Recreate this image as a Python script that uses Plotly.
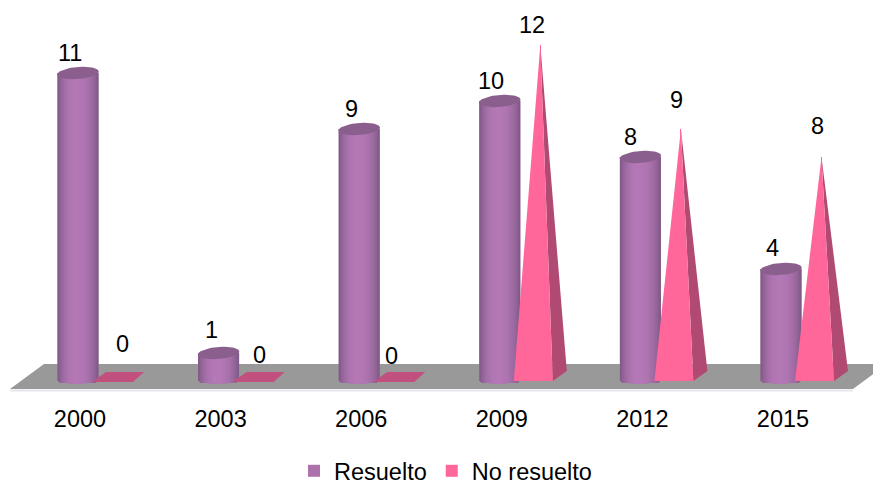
import numpy as np
import plotly.graph_objects as go

years = ["2000", "2003", "2006", "2009", "2012", "2015"]
resuelto = [11, 1, 9, 10, 8, 4]
no_resuelto = [0, 0, 0, 12, 9, 8]

# label offsets from the mark's reference point, in pixels
res_label_dx = [-8, -7, -8, -9, -10, -9]
res_label_dy = [20, 23, 20, 20, 20, 21]
nores_label_dx = [44, 41, 32, 32, 36, 36]
nores_label_dy = [37, 26, 25, 20, 29, 31]

W, H = 873, 485
X0, DX = 78.0, 140.6     # pixel position of first category, pixels per category
Y0, DY = 381.0, 28.0     # pixel position of zero, pixels per unit
PLOT_BOTTOM = 395
FONT = "Liberation Sans, Arial, sans-serif"
FS = 23.5

px = lambda p: p / DX    # horizontal pixels to data units
py = lambda p: p / DY    # vertical pixels to data units

xs = list(range(len(years)))
fig = go.Figure()

# first layer carries the true values and the legend colour
fig.add_trace(go.Bar(x=xs, y=resuelto, width=px(41), name="Resuelto",
                     marker=dict(color="#ad72ab", line_width=0)))

# nested layers give the cylinder's shading and its round foot
C_EDGE = np.array([128, 90, 136])
C_MID = np.array([180, 120, 182])
N = 20
for k in range(N):
    r = 1 - k / N
    c = C_MID + (C_EDGE - C_MID) * r ** 2.4
    depth = py(2.5) * np.sqrt(max(1 - r * r, 0))
    fig.add_trace(go.Bar(
        x=[x - px(2.0) * (1 - r) for x in xs] * 2,
        y=resuelto + [-depth] * len(xs),
        width=px(41 * r),
        marker=dict(color=f"rgb({c[0]:.0f},{c[1]:.0f},{c[2]:.0f})", line_width=0),
        showlegend=False, hoverinfo="skip"))

# cylinder tops
th = np.linspace(0, 2 * np.pi, 60)
ex, ey = [], []
for x, v in zip(xs, resuelto):
    ex += list(x + px(20.8) * np.cos(th)) + [None]
    ey += list(v + py(6.0) * np.sin(th) + py(1.5) * np.cos(th)) + [None]
fig.add_trace(go.Scatter(x=ex, y=ey, mode="lines", fill="toself", fillcolor="#8a5f8d",
                         line=dict(width=0), showlegend=False, hoverinfo="skip"))

# legend entry and true values of the second series: a hairline on each cone's axis
fig.add_trace(go.Bar(x=[x + px(40.5) for x in xs], y=no_resuelto, width=0, name="No resuelto",
                     marker=dict(color="#ff6699", line_width=0)))

# cones
fx, fy, sx, sy, zx, zy = [], [], [], [], [], []
for x, v in zip(xs, no_resuelto):
    if v == 0:
        zx += [x + px(14), x + px(55), x + px(66), x + px(28), None]
        zy += [-py(1), -py(1), py(9), py(9), None]
    else:
        fx += [x + px(14), x + px(53), x + px(40.5), None]
        fy += [0, 0, v, None]
        sx += [x + px(53), x + px(67), x + px(40.5), None]
        sy += [0, py(10), v, None]
fig.add_trace(go.Scatter(x=sx, y=sy, mode="lines", fill="toself", fillcolor="#b04a72",
                         line=dict(width=0), showlegend=False, hoverinfo="skip"))
fig.add_trace(go.Scatter(x=zx, y=zy, mode="lines", fill="toself", fillcolor="#c2507e",
                         line=dict(width=0), showlegend=False, hoverinfo="skip"))
fig.add_trace(go.Scatter(x=fx, y=fy, mode="lines", fill="toself", fillcolor="#ff6699",
                         line=dict(width=0), showlegend=False, hoverinfo="skip"))

annotations = []
for x, v, dx, dy in zip(xs, resuelto, res_label_dx, res_label_dy):
    annotations.append(dict(x=x, y=v, text=str(v), xshift=dx, yshift=dy, showarrow=False))
for x, v, dx, dy in zip(xs, no_resuelto, nores_label_dx, nores_label_dy):
    annotations.append(dict(x=x, y=v, text=str(v), xshift=dx, yshift=dy, showarrow=False))
for a in annotations:
    a.update(font=dict(family=FONT, size=FS, color="#000000"), xanchor="center", yanchor="middle")


def paper(xp, yp):
    return f"{xp / W:.5f} {1 - yp / PLOT_BOTTOM:.5f}"


floor = "M" + " L".join(paper(a, b) for a, b in [(10, 389), (44, 364), (887, 364), (853, 389)]) + " Z"
shapes = [
    dict(type="line", xref="paper", yref="paper", x0=10 / W, x1=853 / W,
         y0=1 - 390.5 / PLOT_BOTTOM, y1=1 - 390.5 / PLOT_BOTTOM,
         line=dict(color="#e6e6ee", width=2), layer="below"),
    dict(type="path", xref="paper", yref="paper", path=floor,
         fillcolor="#999999", line=dict(width=0), layer="below"),
]

fig.update_layout(
    width=W, height=H,
    margin=dict(l=0, r=0, t=0, b=H - PLOT_BOTTOM, pad=0, autoexpand=False),
    autosize=False,
    paper_bgcolor="white", plot_bgcolor="rgba(0,0,0,0)",
    barmode="overlay",
    font=dict(family=FONT, size=FS, color="#000000"),
    shapes=shapes, annotations=annotations,
    xaxis=dict(range=[-X0 / DX, (W - X0) / DX], tickmode="array", tickvals=xs, ticktext=years,
               showgrid=False, zeroline=False, showline=False, ticks="outside",
               ticklen=3, tickcolor="rgba(0,0,0,0)", ticklabelshift=2,
               tickfont=dict(family=FONT, size=FS, color="#000000")),
    yaxis=dict(range=[-(PLOT_BOTTOM - Y0) / DY, Y0 / DY], visible=False),
    legend=dict(orientation="h", x=294 / W, xanchor="left", y=-(449 - PLOT_BOTTOM) / PLOT_BOTTOM,
                yanchor="top",
                font=dict(family=FONT, size=FS, color="#000000"),
                bgcolor="rgba(0,0,0,0)", itemclick=False, itemdoubleclick=False),
)

fig.write_html("out.html", config={"displayModeBar": False},
               post_script="document.body.style.margin='0';")
